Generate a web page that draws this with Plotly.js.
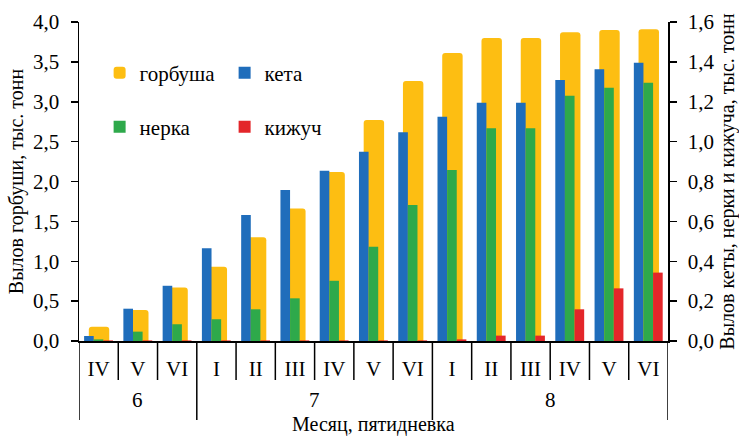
<!DOCTYPE html>
<html>
<head>
<meta charset="utf-8">
<script src="https://cdn.plot.ly/plotly-3.0.1.min.js"></script>
<style>
  html, body { margin: 0; padding: 0; background: #fff; }
  #chart { width: 739px; height: 437px; }
</style>
</head>
<body>
<div id="chart"></div>
<script>
// Месяц и пятидневка для каждой группы столбцов
const months   = ['6', '6', '6', '7', '7', '7', '7', '7', '7', '8', '8', '8', '8', '8', '8'];
const pentads  = ['IV', 'V', 'VI', 'I', 'II', 'III', 'IV', 'V', 'VI', 'I', 'II', 'III', 'IV', 'V', 'VI'];

// Вылов горбуши, тыс. тонн (левая ось)
const gorbusha = [0.18, 0.39, 0.67, 0.93, 1.30, 1.66, 2.12, 2.77, 3.26, 3.61, 3.80, 3.80, 3.87, 3.90, 3.91];
// Вылов кеты, нерки и кижуча, тыс. тонн (правая ось)
const keta     = [0.025, 0.162, 0.277, 0.465, 0.632, 0.757, 0.854, 0.949, 1.047, 1.125, 1.195, 1.195, 1.309, 1.363, 1.396];
const nerka    = [0.008, 0.047, 0.084, 0.109, 0.159, 0.214, 0.302, 0.473, 0.682, 0.858, 1.067, 1.067, 1.230, 1.270, 1.295];
const kizhuch  = [0.003, 0.003, 0.003, 0.003, 0.003, 0.003, 0.003, 0.003, 0.003, 0.008, 0.027, 0.027, 0.159, 0.264, 0.343];

const W = 739, H = 437;
const M = { l: 79, r: 71, t: 22, b: 96 };
const plotH = H - M.t - M.b;
const FONT = '"Liberation Serif", "Times New Roman", serif';

const idx = pentads.map((_, i) => i);

const traces = [
  { name: 'горбуша', y: gorbusha, yaxis: 'y',  color: '#FDBE12', width: 0.52, offset: -0.25, legend: 'legend',  radius: 3 },
  { name: 'кета',    y: keta,     yaxis: 'y2', color: '#1F6DBB', width: 0.245, offset: -0.37, legend: 'legend',  radius: 0 },
  { name: 'нерка',   y: nerka,    yaxis: 'y2', color: '#2EA94B', width: 0.245, offset: -0.125, legend: 'legend2', radius: 0 },
  { name: 'кижуч',   y: kizhuch,  yaxis: 'y2', color: '#E3262A', width: 0.245, offset: 0.12, legend: 'legend2', radius: 0 }
].map(s => ({
  type: 'bar',
  name: s.name,
  x: idx,
  y: s.y,
  yaxis: s.yaxis,
  width: s.width,
  offset: s.offset,
  legend: s.legend,
  marker: { color: s.color, cornerradius: s.radius, line: { width: 0 } },
  hoverinfo: 'name+y'
}));

// Разделители пятидневок и месяцев под осью X
const shapes = [];
const pxToPaper = px => -px / plotH;
for (let i = 0; i <= pentads.length; i++) {
  const isMonthEdge = i === 0 || i === pentads.length || months[i] !== months[i - 1];
  shapes.push({
    type: 'line', xref: 'x', yref: 'paper',
    x0: i - 0.5, x1: i - 0.5,
    y0: 0, y1: pxToPaper(isMonthEdge ? 79 : 39),
    line: { color: '#000', width: 1.5 }
  });
}

// Подписи месяцев по центру своих групп
const annotations = [];
let start = 0;
for (let i = 1; i <= months.length; i++) {
  if (i === months.length || months[i] !== months[start]) {
    annotations.push({
      xref: 'x', yref: 'paper',
      x: (start + i - 1) / 2, y: pxToPaper(59),
      yanchor: 'middle', xanchor: 'center',
      text: months[start], showarrow: false,
      font: { family: FONT, size: 21, color: '#000' }
    });
    start = i;
  }
}
annotations.push({
  xref: 'paper', yref: 'paper', x: 0.5, y: pxToPaper(M.b),
  xanchor: 'center', yanchor: 'bottom', showarrow: false,
  text: 'Месяц, пятидневка', borderpad: 0,
  font: { family: FONT, size: 20, color: '#000' }
});

const axisCommon = {
  showgrid: false, zeroline: false,
  showline: true, linecolor: '#000', linewidth: 1.5,
  ticks: 'outside', ticklen: 7, tickwidth: 1.5, tickcolor: '#000',
  tickfont: { family: FONT, size: 21, color: '#000' },
  tickformat: '.1f'
};

const legendCommon = {
  orientation: 'h', xanchor: 'left', yanchor: 'middle',
  bgcolor: 'rgba(0,0,0,0)', borderwidth: 0,
  font: { family: FONT, size: 21, color: '#000' },
  entrywidth: 80, itemwidth: 30, traceorder: 'normal'
};

const layout = {
  width: W, height: H,
  margin: M,
  paper_bgcolor: '#fff', plot_bgcolor: '#fff',
  separators: ', ',
  font: { family: FONT, color: '#000' },
  barmode: 'overlay',
  showlegend: true,
  legend:  Object.assign({ x: 0.035, y: 1 - (73 - M.t) / plotH }, legendCommon),
  legend2: Object.assign({ x: 0.035, y: 1 - (127 - M.t) / plotH }, legendCommon),
  xaxis: {
    type: 'linear',
    range: [-0.5, pentads.length - 0.5],
    tickmode: 'array', tickvals: idx, ticktext: pentads,
    showgrid: false, zeroline: false,
    showline: true, linecolor: '#000', linewidth: 1.5,
    ticks: '', ticklabelstandoff: 8,
    tickfont: { family: FONT, size: 21, color: '#000' },
    fixedrange: true
  },
  yaxis: Object.assign({}, axisCommon, {
    range: [0, 4], dtick: 0.5, tick0: 0,
    ticklabelstandoff: 7,
    title: { text: 'Вылов горбуши, тыс. тонн', font: { family: FONT, size: 20, color: '#000' }, standoff: 4 }
  }),
  yaxis2: Object.assign({}, axisCommon, {
    range: [0, 1.6], dtick: 0.2, tick0: 0,
    overlaying: 'y', side: 'right',
    ticklabelstandoff: 7,
    title: { text: 'Вылов кеты, нерки и кижуча, тыс. тонн', font: { family: FONT, size: 20, color: '#000' }, standoff: 8 }
  }),
  shapes: shapes,
  annotations: annotations
};

Plotly.newPlot('chart', traces, layout, { displayModeBar: false, staticPlot: true });
</script>
</body>
</html>
